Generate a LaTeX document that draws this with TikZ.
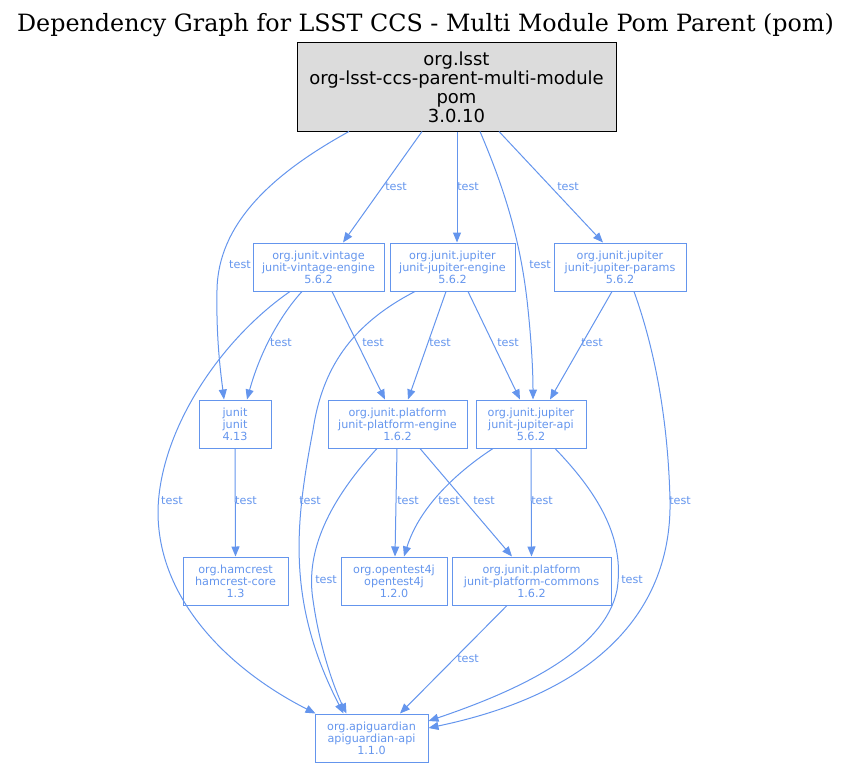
\documentclass[tikz,border=0pt]{standalone}
\usepackage{fontspec}
\setmainfont{DejaVu Sans}
\newfontfamily\titlefont{DejaVu Serif}
\usetikzlibrary{arrows.meta}
\definecolor{cfblue}{HTML}{6495ED}
\definecolor{gains}{HTML}{DCDCDC}
\begin{document}
\begin{tikzpicture}[x=1pt,y=-1pt,
  dep/.style={draw=cfblue, line width=1pt, text=cfblue, font=\fontsize{11.2}{12}\selectfont, align=center, inner sep=0pt, minimum height=48pt},
  rootbox/.style={draw=black, fill=gains, line width=1pt, font=\fontsize{18}{19}\selectfont, align=center, inner sep=0pt, minimum width=319pt, minimum height=88pt},
  arr/.style={draw=cfblue, line width=1pt, -{Triangle[length=10pt,width=8pt]}},
  lbl/.style={text=cfblue, font=\fontsize{11.2}{12}\selectfont, inner sep=0pt}]
\useasboundingbox (0,0) rectangle (851,768);
\node[anchor=base, font=\titlefont\fontsize{23.8}{26}\selectfont] (title) at (425.5,32) {Dependency Graph for LSST CCS - Multi Module Pom Parent (pom)};
% nodes
\node[rootbox] (root) at (456.5,87) {org.lsst\\org-lsst-ccs-parent-multi-module\\pom\\3.0.10};
\node[dep, minimum width=131pt] (vin) at (318.5,267) {org.junit.vintage\\junit-vintage-engine\\5.6.2};
\node[dep, minimum width=125pt] (jeng) at (452.5,267) {org.junit.jupiter\\junit-jupiter-engine\\5.6.2};
\node[dep, minimum width=132pt] (par) at (620,267) {org.junit.jupiter\\junit-jupiter-params\\5.6.2};
\node[dep, minimum width=72pt] (junit) at (235,424) {junit\\junit\\4.13};
\node[dep, minimum width=139pt] (peng) at (397.5,424) {org.junit.platform\\junit-platform-engine\\1.6.2};
\node[dep, minimum width=110pt] (japi) at (531,424) {org.junit.jupiter\\junit-jupiter-api\\5.6.2};
\node[dep, minimum width=105pt] (ham) at (235.5,581) {org.hamcrest\\hamcrest-core\\1.3};
\node[dep, minimum width=106pt] (ot) at (394,581) {org.opentest4j\\opentest4j\\1.2.0};
\node[dep, minimum width=159pt] (com) at (531.5,581) {org.junit.platform\\junit-platform-commons\\1.6.2};
\node[dep, minimum width=113pt] (api) at (371.5,738) {org.apiguardian\\apiguardian-api\\1.1.0};
% edges
\draw[arr] ([xshift=-107.5pt]root.south) .. controls (270,175) and (218,225) .. (217,290) .. controls (216,340) and (221,375) .. ([xshift=-11pt]junit.north);
\draw[arr] ([xshift=-34.5pt]root.south) -- ([xshift=24.5pt]vin.north);
\draw[arr] ([xshift=0.5pt]root.south) -- ([xshift=4.5pt]jeng.north);
\draw[arr] ([xshift=23.5pt]root.south) .. controls (505,190) and (520,240) .. (527,300) .. controls (532,345) and (533,375) .. ([xshift=2pt]japi.north);
\draw[arr] ([xshift=42.5pt]root.south) -- ([xshift=-17pt]par.north);
\draw[arr] ([xshift=-16.5pt]vin.south) .. controls (285,310) and (262,345) .. ([xshift=12pt]junit.north);
\draw[arr] ([xshift=-28.5pt]vin.south) .. controls (220,340) and (160,430) .. (158,510) .. controls (157,600) and (230,670) .. ([xshift=1pt]api.north west);
\draw[arr] ([xshift=13.5pt]vin.south) -- ([xshift=-12.5pt]peng.north);
\draw[arr] ([xshift=-37.5pt]jeng.south) .. controls (350,325) and (322,370) .. (313,430) .. controls (296,520) and (285,600) .. ([xshift=-28pt]api.north);
\draw[arr] ([xshift=-6.5pt]jeng.south) -- ([xshift=10.5pt]peng.north);
\draw[arr] ([xshift=15.5pt]jeng.south) -- ([xshift=-11pt]japi.north);
\draw[arr] ([xshift=-8pt]par.south) -- ([xshift=19pt]japi.north);
\draw[arr] ([xshift=14pt]par.south) .. controls (655,350) and (668,420) .. (670,500) .. controls (672,600) and (610,690) .. ([yshift=10pt]api.east);
\draw[arr] (junit.south) -- (ham.north);
\draw[arr] ([xshift=-20.5pt]peng.south) .. controls (330,500) and (305,550) .. (313,600) .. controls (320,650) and (335,690) .. ([xshift=-25pt]api.north);
\draw[arr] ([xshift=-0.5pt]peng.south) -- ([xshift=1pt]ot.north);
\draw[arr] ([xshift=22.5pt]peng.south) -- ([xshift=-19.5pt]com.north);
\draw[arr] ([xshift=-38pt]japi.south) .. controls (460,470) and (420,505) .. ([xshift=10pt]ot.north);
\draw[arr] (japi.south) -- (com.north);
\draw[arr] ([xshift=24pt]japi.south) .. controls (600,495) and (625,540) .. (617,590) .. controls (605,650) and (520,690) .. ([yshift=17pt]api.east);
\draw[arr] ([xshift=-24.5pt]com.south) -- ([xshift=28.5pt]api.north);
% labels
\node[lbl] (l1) at (240,265) {test};
\node[lbl] (l2) at (396,187) {test};
\node[lbl] (l3) at (468,187) {test};
\node[lbl] (l4) at (540,265) {test};
\node[lbl] (l5) at (568,187) {test};
\node[lbl] (l6) at (281,343) {test};
\node[lbl] (l7) at (172,501) {test};
\node[lbl] (l8) at (373,343) {test};
\node[lbl] (l9) at (310,501) {test};
\node[lbl] (l10) at (440,343) {test};
\node[lbl] (l11) at (508,343) {test};
\node[lbl] (l12) at (592,343) {test};
\node[lbl] (l13) at (680,501) {test};
\node[lbl] (l14) at (246,501) {test};
\node[lbl] (l15) at (326,580) {test};
\node[lbl] (l16) at (408,501) {test};
\node[lbl] (l17) at (484,501) {test};
\node[lbl] (l18) at (449,501) {test};
\node[lbl] (l19) at (542,501) {test};
\node[lbl] (l20) at (632,580) {test};
\node[lbl] (l21) at (468,659) {test};
\end{tikzpicture}
\end{document}
